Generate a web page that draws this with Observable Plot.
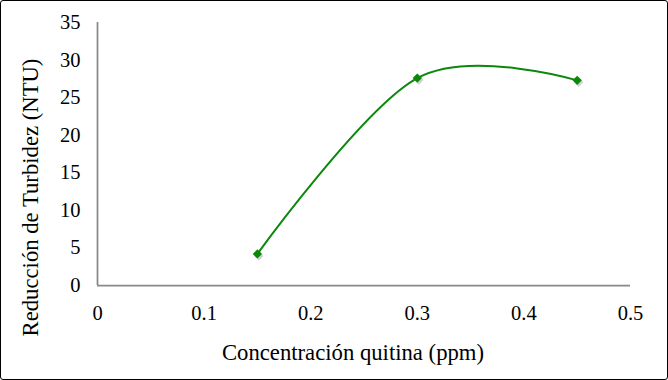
<!DOCTYPE html>
<html>
<head>
<meta charset="utf-8">
<script src="https://cdn.jsdelivr.net/npm/d3@7"></script>
<script src="https://cdn.jsdelivr.net/npm/@observablehq/plot@0.6"></script>
<style>
  html, body { margin: 0; padding: 0; background: #fff; }
  #wrap { position: relative; width: 668px; height: 380px; }
  #frame { position: absolute; left: 0; top: 0; width: 668px; height: 380px; box-sizing: border-box; border: 1px solid #000; border-radius: 3px; pointer-events: none; }
</style>
</head>
<body>
<div id="wrap"><div id="frame"></div></div>
<script>
const concentracion = [0.15, 0.3, 0.45];
const reduccion = [4.2, 27.6, 27.3];
const xTicks = [0, 0.1, 0.2, 0.3, 0.4, 0.5];
const yTicks = [0, 5, 10, 15, 20, 25, 30, 35];
const xLabel = "Concentración quitina (ppm)";
const yLabel = "Reducción de Turbidez (NTU)";

const data = concentracion.map((x, i) => ({x, y: reduccion[i]}));
const green = "#0b880b";
const font = "'Liberation Serif', 'Times New Roman', serif";
const fsTick = "20.5px";
const fsLabel = "22.7px";

const chart = Plot.plot({
  width: 668,
  height: 380,
  marginLeft: 97,
  marginRight: 38,
  marginTop: 22,
  marginBottom: 95,
  style: {fontFamily: font, fontSize: fsTick, color: "#000", background: "transparent"},
  x: {domain: [0, 0.5], label: null},
  y: {domain: [0, 35], label: null},
  marks: [
    Plot.axisX({ticks: xTicks, tickSize: 0, tickPadding: 20, tickFormat: d => String(d), fontSize: fsTick, label: null}),
    Plot.axisY({ticks: yTicks, tickSize: 0, tickPadding: 17, fontSize: fsTick, label: null}),
    Plot.text([xLabel], {frameAnchor: "bottom", text: d => d, textAnchor: "middle", dx: -11, dy: 74, fontSize: fsLabel, fill: "#000"}),
    Plot.text([yLabel], {frameAnchor: "left", text: d => d, textAnchor: "middle", rotate: -90, dx: -67, dy: 43.5, fontSize: fsLabel, fill: "#000"}),
    Plot.ruleY([0], {x1: 0, x2: 0.5, stroke: "#898989", strokeWidth: 1.75}),
    Plot.ruleX([0], {y1: 0, y2: 35, stroke: "#898989", strokeWidth: 1.75}),
    Plot.line(data, {x: "x", y: "y", curve: "cardinal", stroke: green, strokeWidth: 2}),
    Plot.dot(data, {x: "x", y: "y", symbol: "diamond2", r: 4.2, fill: "#777", fillOpacity: 0.35, stroke: "none", dx: 1.5, dy: 2}),
    Plot.dot(data, {x: "x", y: "y", symbol: "diamond2", r: 4.2, fill: green, stroke: "none"})
  ]
});
document.getElementById("wrap").prepend(chart);
</script>
</body>
</html>
